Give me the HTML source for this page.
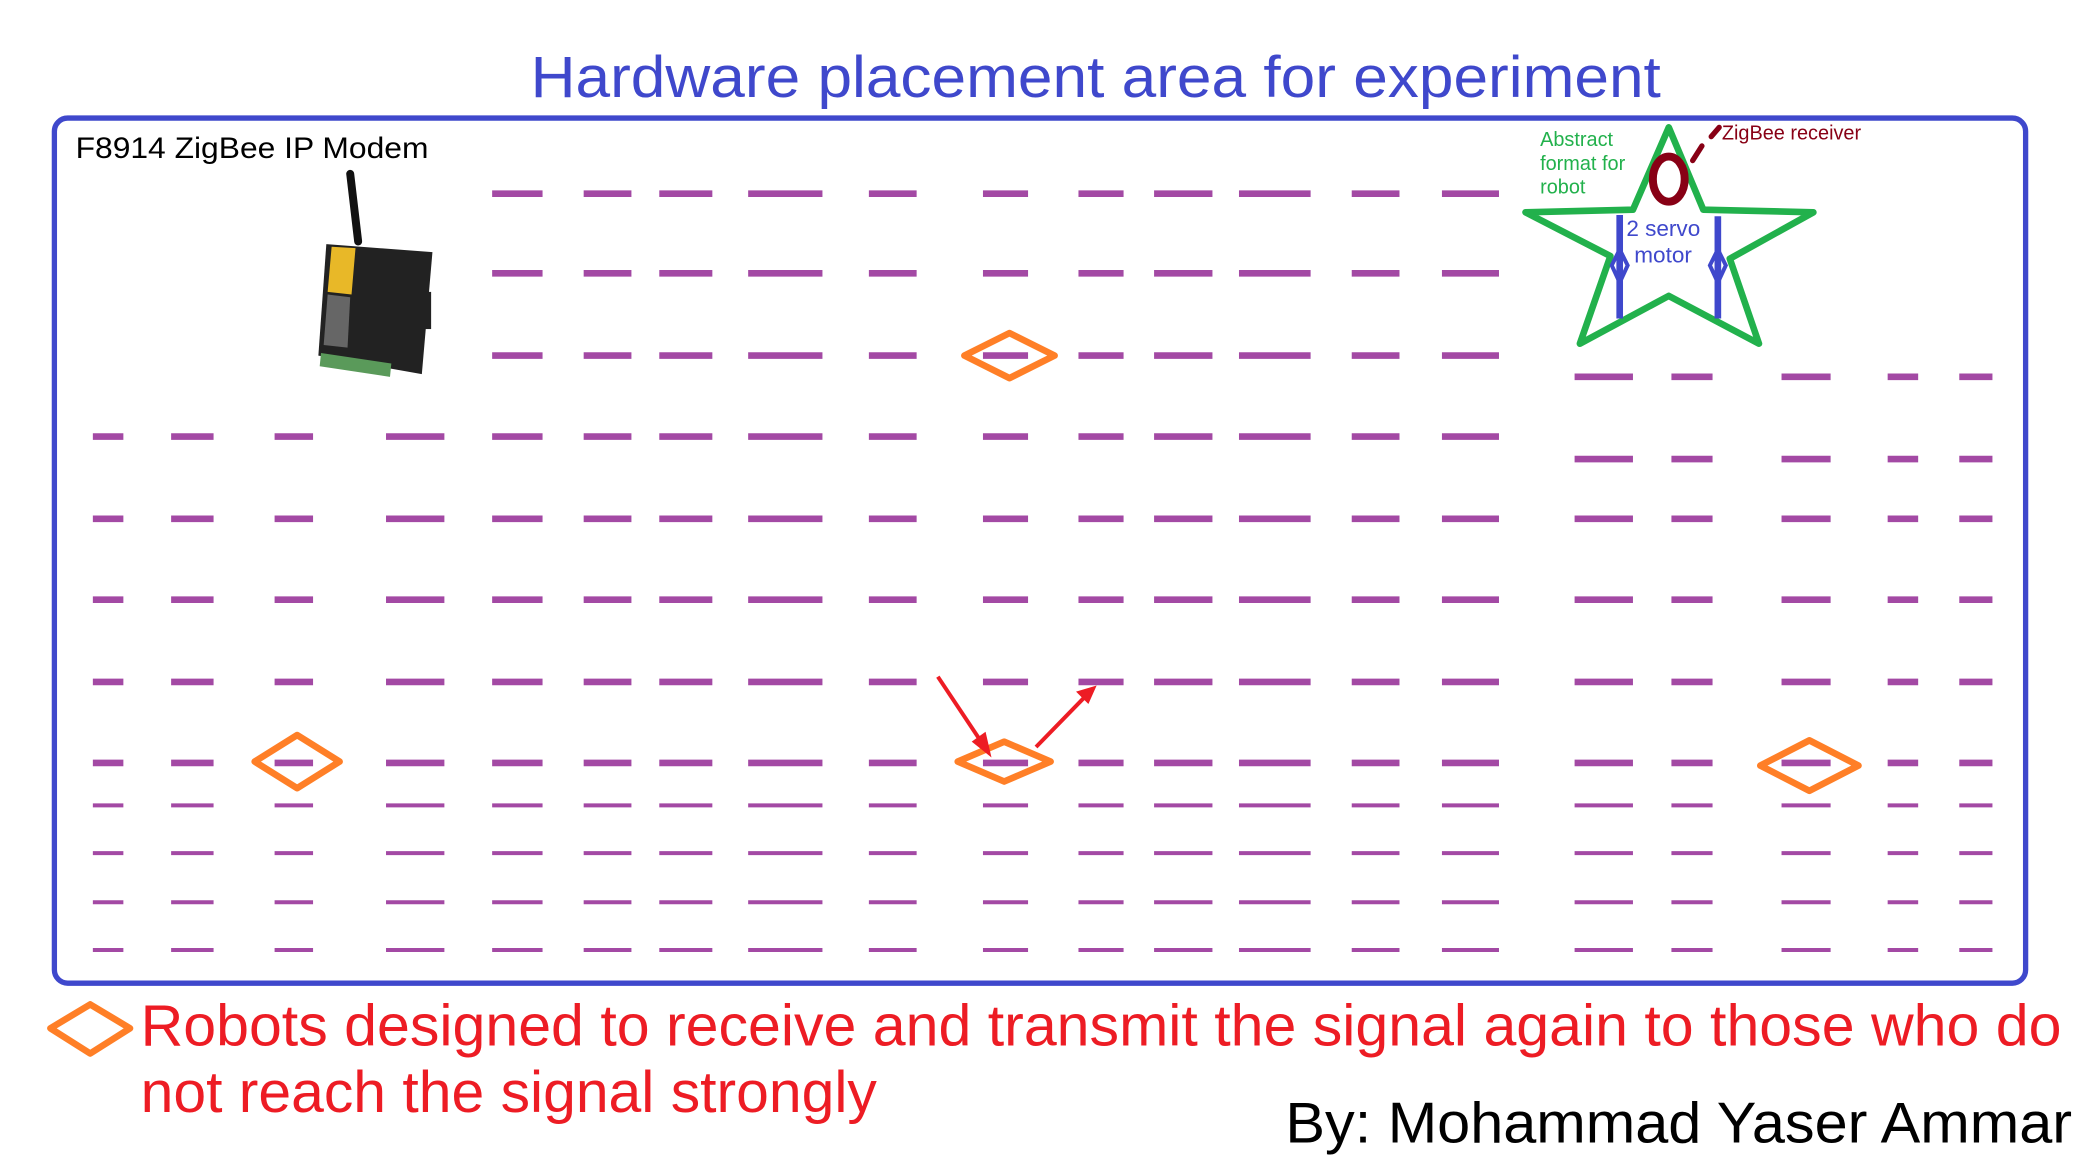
<!DOCTYPE html>
<html><head><meta charset="utf-8"><style>
html,body{margin:0;padding:0;background:#fff;width:2080px;height:1157px;overflow:hidden}
svg{display:block}
text{font-family:"Liberation Sans",sans-serif}
</style></head><body>
<svg id="c" width="2080" height="1157" viewBox="0 0 1568 872" preserveAspectRatio="none" xmlns="http://www.w3.org/2000/svg">
<text x="400" y="73" font-size="44" fill="#3f48cc" textLength="852" lengthAdjust="spacingAndGlyphs">Hardware placement area for experiment</text>
<rect x="41" y="89" width="1486" height="652" rx="10" fill="none" stroke="#3f48cc" stroke-width="4"/>
<text x="57" y="119" font-size="22" fill="#000" textLength="266" lengthAdjust="spacingAndGlyphs">F8914 ZigBee IP Modem</text>
<g>
<line x1="264" y1="131" x2="270" y2="182" stroke="#111" stroke-width="6" stroke-linecap="round"/>
<polygon points="246,184 326,190 318,282 240,268" fill="#222"/>
<polygon points="250,186 268,187 265,222 247,220" fill="#e8b828"/>
<polygon points="247,222 264,224 262,262 244,260" fill="#666"/>
<polygon points="242,266 295,274 294,284 241,276" fill="#5a9a5a"/>
<rect x="317" y="220" width="8" height="28" fill="#222"/>
</g>
<g id="dashes"></g>
<g id="diamonds"></g>
<g stroke="#ed1c24" stroke-width="3" fill="#ed1c24">
<line x1="707" y1="510" x2="743" y2="564"/><polygon points="745,567 735,559 742,554"/>
<line x1="781" y1="563" x2="820" y2="523"/><polygon points="824,519 814,522 820,528"/>
</g>
<g>
<polygon points="1258,96 1284,158 1367,160 1304,195 1326,259 1258,223 1191,259 1214,193 1150,160 1231,158" fill="none" stroke="#22b14c" stroke-width="5" stroke-linejoin="round"/>
<ellipse cx="1258" cy="135" rx="12" ry="17" fill="none" stroke="#880015" stroke-width="6"/>
<line x1="1276" y1="121" x2="1283" y2="110" stroke="#880015" stroke-width="4" stroke-linecap="round"/>
<line x1="1290" y1="103" x2="1296" y2="96" stroke="#880015" stroke-width="4" stroke-linecap="round"/>
<g stroke="#3f48cc" stroke-width="5" fill="none">
<line x1="1221" y1="162" x2="1221" y2="240"/><polygon points="1221,188 1227,200 1221,213 1215,200" stroke-width="3"/>
<line x1="1295" y1="163" x2="1295" y2="240"/><polygon points="1295,188 1301,200 1295,213 1289,200" stroke-width="3"/>
</g>
<text x="1226" y="178" font-size="17" fill="#3f48cc">2 servo</text>
<text x="1232" y="198" font-size="17" fill="#3f48cc">motor</text>
</g>
<g fill="#22b14c" font-size="15">
<text x="1161" y="110">Abstract</text><text x="1161" y="128">format for</text><text x="1161" y="146">robot</text>
</g>
<text x="1298" y="105" font-size="15" fill="#880015">ZigBee receiver</text>
<polygon points="68,757 98,775 68,794 38,775" fill="none" stroke="#ff7f27" stroke-width="5" stroke-linejoin="round"/>
<text x="106" y="788" font-size="44" fill="#ed1c24" textLength="1448" lengthAdjust="spacingAndGlyphs">Robots designed to receive and transmit the signal again to those who do</text>
<text x="106" y="838" font-size="44" fill="#ed1c24" textLength="555" lengthAdjust="spacingAndGlyphs">not reach the signal strongly</text>
<text x="969" y="861" font-size="43" fill="#000" textLength="593" lengthAdjust="spacingAndGlyphs">By: Mohammad Yaser Ammar</text>
</svg>
<script>
var NS="http://www.w3.org/2000/svg";
var colsLeft=[[70,93],[129,161],[207,236],[291,335]];
var colsMid=[[371,409],[440,476],[497,537],[564,620],[655,691],[741,775],[813,847],[870,914],[934,988],[1019,1055],[1087,1130]];
var colsRight=[[1187,1231],[1260,1291],[1343,1380],[1423,1446],[1477,1502]];
var rowY=[146,206,268,284,329,346,391,452,514,575,607,643,680,716];
var rowGroups=["M","M","M","R","LM","R","LMR","LMR","LMR","LMR","LMR","LMR","LMR","LMR"];
var rowThick=[5,5,5,5,5,5,5,5,5,5,3,3,3,3];
var relayX=[761,224,757,1364];
var relayY=[268,574,574,577];
var relayW=[68,64,70,74];
var relayH=[34,40,30,38];
var dg=document.getElementById('dashes');
for(var r=0;r<rowY.length;r++){
  var cols=[];
  if(rowGroups[r].indexOf('L')>=0)cols=cols.concat(colsLeft);
  if(rowGroups[r].indexOf('M')>=0)cols=cols.concat(colsMid);
  if(rowGroups[r].indexOf('R')>=0)cols=cols.concat(colsRight);
  for(var c=0;c<cols.length;c++){
    var l=document.createElementNS(NS,'line');
    l.setAttribute('x1',cols[c][0]);l.setAttribute('x2',cols[c][1]);
    l.setAttribute('y1',rowY[r]);l.setAttribute('y2',rowY[r]);
    l.setAttribute('stroke','#a349a4');l.setAttribute('stroke-width',rowThick[r]);
    
    
    dg.appendChild(l);
  }
}
var gg=document.getElementById('diamonds');
for(var i=0;i<relayX.length;i++){
  var x=relayX[i],y=relayY[i],w=relayW[i]/2,h=relayH[i]/2;
  var p=document.createElementNS(NS,'polygon');
  p.setAttribute('points',x+','+(y-h)+' '+(x+w)+','+y+' '+x+','+(y+h)+' '+(x-w)+','+y);
  p.setAttribute('fill','none');p.setAttribute('stroke','#ff7f27');p.setAttribute('stroke-width','5');p.setAttribute('stroke-linejoin','round');
  
  
  gg.appendChild(p);
}
</script>
</body></html>
